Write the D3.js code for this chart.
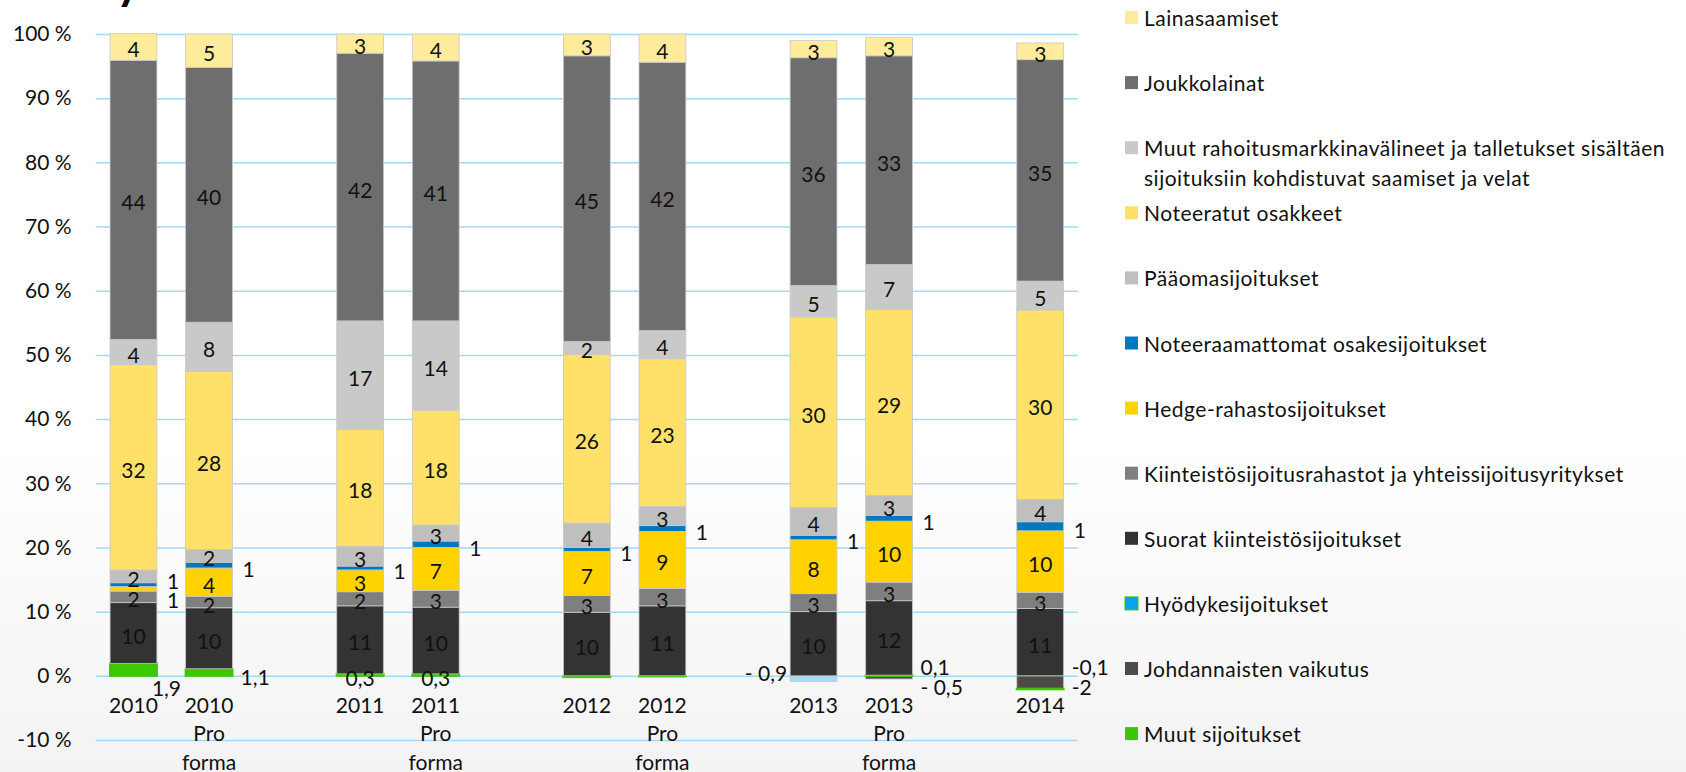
<!DOCTYPE html>
<html>
<head>
<meta charset="utf-8">
<script src="https://cdn.jsdelivr.net/npm/d3@7"></script>
<style>
  html, body { margin: 0; padding: 0; background: #fff; }
  svg { display: block; font-family: Lato, "Open Sans", sans-serif; }
</style>
</head>
<body>
<svg id="viz"></svg>
<script>
(function () {
  'use strict';

  // bars, left to right
  const categories = ['2010', '2010 Pro forma', '2011', '2011 Pro forma', '2012', '2012 Pro forma', '2013', '2013 Pro forma', '2014'];
  // category slots on the axis, the gaps are empty slots
  const slots = ['2010', '2010 Pro forma', 'gap1', '2011', '2011 Pro forma', 'gap2', '2012', '2012 Pro forma', 'gap3', '2013', '2013 Pro forma', 'gap4', '2014'];
  const yTicks = [-10, 0, 10, 20, 30, 40, 50, 60, 70, 80, 90, 100];

  // shares, %
  const johdannaiset = [0, 0, 0, 0, 0, 0, 0, -0.5, -2];
  const muutSijoitukset = [1.9, 1.1, 0.3, 0.3, -0.2, -0.1, 0, 0.1, -0.1];
  const hyodyke = [0, 0, 0, 0, 0, 0, -0.9, 0, 0];
  const suorat = [9.5, 9.5, 10.6, 10.4, 9.9, 10.9, 10.0, 11.6, 10.5];
  const kiinteistorahastot = [1.8, 1.8, 2.2, 2.6, 2.6, 2.7, 2.8, 2.9, 2.5];
  const hedge = [0.7, 4.4, 3.4, 6.7, 6.9, 8.9, 8.4, 9.5, 9.6];
  const noteeraamattomat = [0.6, 0.9, 0.6, 1.0, 0.6, 0.9, 0.7, 0.9, 1.4];
  const paaoma = [2.0, 2.0, 3.1, 2.5, 3.8, 3.0, 4.3, 3.1, 3.5];
  const noteeratut = [32.0, 27.7, 18.2, 17.9, 26.3, 23.0, 29.7, 29.0, 29.5];
  const muutRahoitus = [3.9, 7.7, 16.9, 13.9, 2.0, 4.4, 4.9, 7.0, 4.5];
  const joukkolainat = [43.5, 39.7, 41.7, 40.5, 44.5, 41.8, 35.5, 32.5, 34.5];
  const lainasaamiset = [4.2, 5.2, 3.0, 4.2, 3.4, 4.4, 2.7, 2.9, 2.6];

  // stacking order, bottom first
  const seriesNames = [
    'Johdannaisten vaikutus',
    'Muut sijoitukset',
    'Hyödykesijoitukset',
    'Suorat kiinteistösijoitukset',
    'Kiinteistösijoitusrahastot ja yhteissijoitusyritykset',
    'Hedge-rahastosijoitukset',
    'Noteeraamattomat osakesijoitukset',
    'Pääomasijoitukset',
    'Noteeratut osakkeet',
    'Muut rahoitusmarkkinavälineet ja talletukset sisältäen sijoituksiin kohdistuvat saamiset ja velat',
    'Joukkolainat',
    'Lainasaamiset'
  ];
  const seriesValues = [johdannaiset, muutSijoitukset, hyodyke, suorat, kiinteistorahastot, hedge,
    noteeraamattomat, paaoma, noteeratut, muutRahoitus, joukkolainat, lainasaamiset];

  // legend, top to bottom
  const legendOrder = [
    'Lainasaamiset',
    'Joukkolainat',
    'Muut rahoitusmarkkinavälineet ja talletukset sisältäen sijoituksiin kohdistuvat saamiset ja velat',
    'Noteeratut osakkeet',
    'Pääomasijoitukset',
    'Noteeraamattomat osakesijoitukset',
    'Hedge-rahastosijoitukset',
    'Kiinteistösijoitusrahastot ja yhteissijoitusyritykset',
    'Suorat kiinteistösijoitukset',
    'Hyödykesijoitukset',
    'Johdannaisten vaikutus',
    'Muut sijoitukset'
  ];

  const colors = {
    'Johdannaisten vaikutus': '#4e4a48',
    'Muut sijoitukset': '#3cc800',
    'Hyödykesijoitukset': '#a6dbf6',
    'Suorat kiinteistösijoitukset': '#333333',
    'Kiinteistösijoitusrahastot ja yhteissijoitusyritykset': '#7f7f7f',
    'Hedge-rahastosijoitukset': '#ffd200',
    'Noteeraamattomat osakesijoitukset': '#0079c1',
    'Pääomasijoitukset': '#bfbfbf',
    'Noteeratut osakkeet': '#ffe169',
    'Muut rahoitusmarkkinavälineet ja talletukset sisältäen sijoituksiin kohdistuvat saamiset ja velat': '#c9c9c9',
    'Joukkolainat': '#6e6e6e',
    'Lainasaamiset': '#ffeb9c'
  };
  const legendColors = Object.assign({}, colors, { 'Hyödykesijoitukset': '#0aa2e8' });

  // small series at the bottom get decimal labels placed by hand like in the original
  const smallSeries = ['Muut sijoitukset', 'Johdannaisten vaikutus', 'Hyödykesijoitukset'];
  const smallPlace = { '2010': 'below', '2011': 'center', '2011 Pro forma': 'center', '2013': 'left' };
  const smallHidden = ['2012', '2012 Pro forma'];

  const width = 1686;
  const height = 772;
  const plot = { left: 95.7, right: 1078, top: 34, bottom: 740 };
  const fontSize = 21;
  const textColor = '#111';

  const svg = d3.select('#viz')
    .attr('width', width)
    .attr('height', height);

  // light grey fade at the bottom of the slide
  const grad = svg.append('defs').append('linearGradient')
    .attr('id', 'bg')
    .attr('x1', 0).attr('y1', 0).attr('x2', 0).attr('y2', 1);
  grad.append('stop').attr('offset', '0%').attr('stop-color', '#ffffff');
  grad.append('stop').attr('offset', '58%').attr('stop-color', '#ffffff');
  grad.append('stop').attr('offset', '100%').attr('stop-color', '#f3f3f3');
  svg.append('rect')
    .attr('width', width)
    .attr('height', height)
    .attr('fill', 'url(#bg)');

  // title is cut off above the slide, only a descender shows
  svg.append('text')
    .attr('x', 116)
    .attr('y', -1)
    .attr('font-size', 46)
    .attr('font-weight', 'bold')
    .attr('fill', '#000')
    .text('y');

  const x = d3.scaleBand()
    .domain(slots)
    .range([plot.left, plot.right])
    .paddingInner(0.38)
    .paddingOuter(0.19);

  const y = d3.scaleLinear()
    .domain([-10, 100])
    .range([plot.bottom, plot.top]);

  const yAxis = d3.axisLeft(y)
    .tickValues(yTicks)
    .tickSize(-(plot.right - plot.left))
    .tickPadding(24)
    .tickFormat(d => d + ' %');

  const gAxis = svg.append('g')
    .attr('transform', `translate(${plot.left},0)`)
    .call(yAxis);
  gAxis.select('.domain').remove();
  gAxis.selectAll('line')
    .attr('stroke', '#a4d9f6')
    .attr('stroke-width', 1.5);
  gAxis.selectAll('text')
    .attr('font-size', fontSize)
    .attr('font-family', 'Lato, sans-serif')
    .attr('fill', textColor);

  // stack
  const rows = categories.map((c, i) => {
    const row = { cat: c };
    seriesNames.forEach((s, si) => { row[s] = seriesValues[si][i]; });
    return row;
  });
  const stacked = d3.stack()
    .keys(seriesNames)
    .offset(d3.stackOffsetDiverging)(rows);

  const gBars = svg.append('g');
  stacked.forEach(layer => {
    // the green series has a thick own-colour border, so its thin bits still show
    const green = layer.key === 'Muut sijoitukset';
    gBars.append('g')
      .attr('fill', colors[layer.key])
      .selectAll('rect')
      .data(layer.filter(d => d[1] !== d[0]))
      .join('rect')
        .attr('x', d => x(d.data.cat))
        .attr('width', x.bandwidth())
        .attr('y', d => y(Math.max(d[0], d[1])))
        .attr('height', d => Math.abs(y(d[0]) - y(d[1])))
        .attr('stroke', green ? colors[layer.key] : '#c8c8c8')
        .attr('stroke-width', green ? 2 : 0.8);
  });

  // labels
  const fmtSmall = (v, key) => {
    const s = Number.isInteger(v) ? String(Math.abs(v)) : Math.abs(v).toFixed(1).replace('.', ',');
    if (v >= 0) return s;
    return (key !== 'Muut sijoitukset' && Math.abs(v) < 1 ? '- ' : '-') + s;
  };

  const labels = [];
  const mainRight = {};
  const smallRight = {};
  const y0 = y(0);

  stacked.forEach(layer => {
    const key = layer.key;
    layer.forEach(d => {
      const v = d.data[key];
      if (v === 0) return;
      const cat = d.data.cat;
      const left = x(cat);
      const right = left + x.bandwidth();
      const mid = left + x.bandwidth() / 2;
      const cy = y((d[0] + d[1]) / 2);

      if (smallSeries.includes(key)) {
        if (smallHidden.includes(cat)) return;
        const text = fmtSmall(v, key);
        const place = smallPlace[cat] || 'right';
        if (place === 'below') {
          labels.push({ x: right - 5, y: y0 + 12, text: text, anchor: 'start' });
        } else if (place === 'center') {
          labels.push({ x: mid, y: cy + 3, text: text, anchor: 'middle' });
        } else if (place === 'left') {
          labels.push({ x: left - 3, y: y0 - 3, text: text, anchor: 'end' });
        } else {
          (smallRight[cat] = smallRight[cat] || []).push({
            x: right + 8, text: text, anchor: 'start', order: smallSeries.indexOf(key)
          });
        }
      } else if (Math.abs(v) >= 1.5) {
        labels.push({ x: mid, y: cy + 2, text: String(Math.round(v)), anchor: 'middle' });
      } else {
        (mainRight[cat] = mainRight[cat] || []).push({
          x: right + 10, cy: cy, text: String(Math.round(v)), anchor: 'start'
        });
      }
    });
  });

  // spread outside labels so they don't sit on each other
  Object.values(mainRight).forEach(group => {
    group.sort((a, b) => a.cy - b.cy);
    const gap = 19;
    let tight = false;
    for (let i = 1; i < group.length; i++) {
      if (group[i].cy - group[i - 1].cy < gap) tight = true;
    }
    const m = d3.mean(group, g => g.cy);
    group.forEach((g, i) => {
      g.y = (tight ? m + (i - (group.length - 1) / 2) * gap : g.cy) + 3;
      labels.push(g);
    });
  });
  Object.values(smallRight).forEach(group => {
    group.sort((a, b) => a.order - b.order);
    group.forEach((g, i) => {
      g.y = y0 + 1 + (i - (group.length - 1) / 2) * 20;
      labels.push(g);
    });
  });

  svg.append('g')
    .selectAll('text')
    .data(labels)
    .join('text')
      .attr('x', d => d.x)
      .attr('y', d => d.y)
      .attr('text-anchor', d => d.anchor)
      .attr('dominant-baseline', 'central')
      .attr('font-size', fontSize)
      .attr('fill', textColor)
      .text(d => d.text);

  // category labels under the zero line
  const gCats = svg.append('g');
  categories.forEach(c => {
    const lines = c.includes('Pro forma') ? [c.slice(0, 4), 'Pro', 'forma'] : [c];
    gCats.append('text')
      .attr('x', x(c) + x.bandwidth() / 2)
      .attr('text-anchor', 'middle')
      .attr('font-size', fontSize)
      .attr('fill', textColor)
      .selectAll('tspan')
      .data(lines)
      .join('tspan')
        .attr('x', x(c) + x.bandwidth() / 2)
        .attr('y', (d, i) => 704 + i * 28.5)
        .attr('dominant-baseline', 'central')
        .text(d => d);
  });

  // legend
  const legend = {
    x: 1125,
    y: 17.5,
    step: 65.1,
    size: 13
  };
  const legendLines = name => name.startsWith('Muut rahoitus')
    ? ['Muut rahoitusmarkkinavälineet ja talletukset sisältäen', 'sijoituksiin kohdistuvat saamiset ja velat']
    : [name];

  const gLegend = svg.append('g');
  legendOrder.forEach((name, i) => {
    const cy = legend.y + i * legend.step;
    gLegend.append('rect')
      .attr('x', legend.x)
      .attr('y', cy - legend.size / 2)
      .attr('width', legend.size)
      .attr('height', legend.size)
      .attr('fill', legendColors[name])
      .attr('stroke', name === 'Hyödykesijoitukset' ? '#3cc800' : 'none')
      .attr('stroke-width', 1);
    gLegend.append('text')
      .attr('font-size', fontSize)
      .attr('letter-spacing', 0.5)
      .attr('fill', textColor)
      .selectAll('tspan')
      .data(legendLines(name))
      .join('tspan')
        .attr('x', legend.x + 19)
        .attr('y', (d, j) => cy + j * 30)
        .attr('dominant-baseline', 'central')
        .text(d => d);
  });

}());
</script>
</body>
</html>
